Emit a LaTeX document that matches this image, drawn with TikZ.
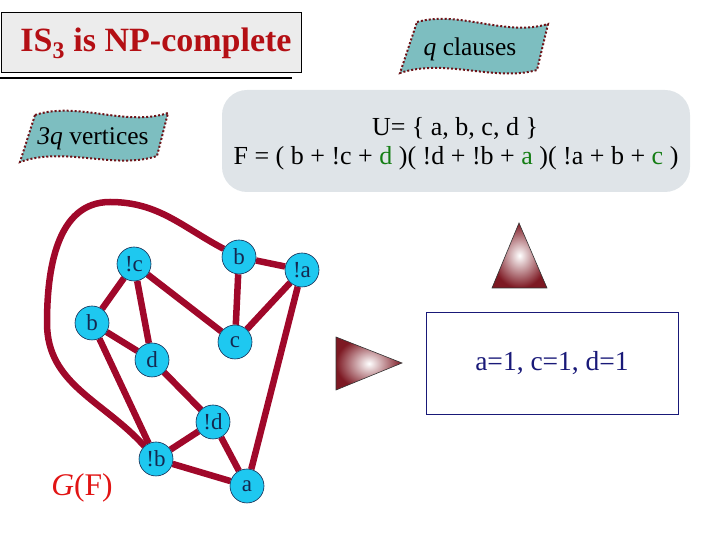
\documentclass[tikz,border=0pt]{standalone}
\usepackage{fontspec}
\setmainfont{Liberation Serif}
\usetikzlibrary{backgrounds}
\definecolor{edgecol}{RGB}{160,8,42}
\definecolor{nodefill}{RGB}{30,200,240}
\definecolor{nodetext}{RGB}{20,40,80}
\definecolor{bannerfill}{RGB}{125,190,192}
\definecolor{bannerline}{RGB}{110,20,25}
\definecolor{titlered}{RGB}{180,15,20}
\definecolor{gfred}{RGB}{225,20,20}
\definecolor{navy}{RGB}{25,25,120}
\definecolor{litgreen}{RGB}{20,125,20}
\definecolor{formbg}{RGB}{223,228,232}
\definecolor{titlebg}{RGB}{236,236,236}
\definecolor{trired}{RGB}{125,25,35}
\tikzset{
  vert/.style={circle, minimum size=34pt, inner sep=0pt, fill=nodefill, draw=nodetext, line width=0.6pt, text=nodetext, font=\fontsize{23}{23}\selectfont},
  gedge/.style={line width=6.5pt, draw=edgecol},
  banner/.style={fill=bannerfill, draw=bannerline, line width=2pt, dotted},
  bannertext/.style={font=\fontsize{25.5}{25.5}\selectfont, text=black},
  tri/.style={draw=black!80, line width=0.6pt, inner color=white, outer color=trired},
}
\begin{document}
\begin{tikzpicture}[x=1pt,y=1pt]
\useasboundingbox (0,0) rectangle (720,540);
% title
\node[draw=black, line width=0.8pt, fill=titlebg, minimum width=300pt, minimum height=60pt, inner sep=0pt, anchor=north west] (titlebox) at (0.5,528) {};
\node[text=titlered, font=\bfseries\fontsize{34}{34}\selectfont] (title) at (156,497) {IS\textsubscript{3} is NP-complete};
\coordinate (ruleL) at (0,462);
\coordinate (ruleR) at (292,462);
\draw[line width=1.2pt] (ruleL) -- (ruleR);
% q clauses banner
\path[banner] (417,518) .. controls (460,530) and (505,503) .. (548,516)
  -- (537,470) .. controls (495,458) and (445,482) .. (400,467) -- cycle;
\node[bannertext] (qcl) at (470,491) {\textit{q} clauses};
% 3q vertices banner
\path[banner] (35,425) .. controls (78,439) and (125,413) .. (168,427)
  -- (157,384) .. controls (115,370) and (65,394) .. (20,378) -- cycle;
\node[bannertext] (qv) at (93,401) {\textit{3q} vertices};
% formula box
\node[fill=formbg, rounded corners=25pt, minimum width=468pt, minimum height=102pt, inner sep=0pt] (formbox) at (456,399) {};
\node[font=\fontsize{26}{26}\selectfont] (uline) at (455,412) {U= \{ a, b, c, d \}};
\node[font=\fontsize{26}{26}\selectfont] (fline) at (456,382) {F = ( b + !c + \textcolor{litgreen}{d} )( !d + !b + \textcolor{litgreen}{a} )( !a + b + \textcolor{litgreen}{c} )};
% graph vertices
\node[vert] (bt) at (239,283) {b};
\node[vert] (na) at (302,270) {!a};
\node[vert] (nc) at (134,276) {!c};
\node[vert] (bl) at (92,217) {b};
\node[vert] (c) at (235,198) {c};
\node[vert] (d) at (152,180) {d};
\node[vert] (nd) at (213,118) {!d};
\node[vert] (nb) at (156,81) {!b};
\node[vert] (a) at (247,54) {a};
\begin{scope}[on background layer]
\draw[gedge] (bt) -- (na);
\draw[gedge] (bt) -- (c);
\draw[gedge] (na) -- (c);
\draw[gedge] (na) -- (a);
\draw[gedge] (nc) -- (bl);
\draw[gedge] (nc) -- (d);
\draw[gedge] (nc) -- (c);
\draw[gedge] (bl) -- (d);
\draw[gedge] (bl) -- (nb);
\draw[gedge] (d) -- (nd);
\draw[gedge] (nd) -- (nb);
\draw[gedge] (nd) -- (a);
\draw[gedge] (nb) -- (a);
\draw[gedge] (bt) to[out=152,in=0] (110,338) to[out=180,in=90] (47,217) to[out=-90,in=132] (nb);
\end{scope}
\node[text=gfred, font=\fontsize{31.5}{31.5}\selectfont] (gf) at (82,52) {\textit{G}(F)};
% triangles
\shade[tri] (492,252) -- (519,317) -- (547,252) -- cycle;
\shade[tri] (336,203) -- (402,177) -- (336,150) -- cycle;
% result box
\node[draw=navy, line width=0.8pt, minimum width=252pt, minimum height=102pt, inner sep=0pt] (res) at (552,177) {};
\node[text=navy, font=\fontsize{27.5}{27.5}\selectfont] (restext) at (552,177) {a=1, c=1, d=1};
\end{tikzpicture}
\end{document}
